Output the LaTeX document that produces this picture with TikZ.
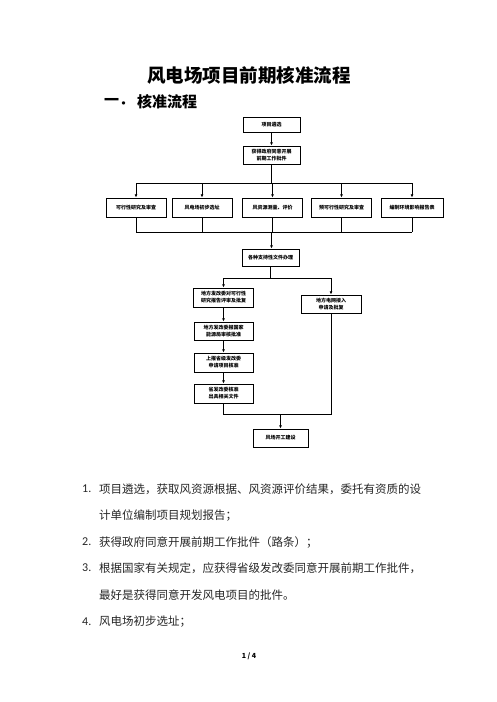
\documentclass[tikz,border=0pt]{standalone}
\usepackage{fontspec}
\setmainfont{Noto Sans CJK SC}
\newfontfamily\numfont{Carlito}
\usetikzlibrary{arrows.meta}
\begin{document}
\begin{tikzpicture}[x=1pt,y=-1pt,
  box/.style={draw,line width=0.8pt,inner sep=0pt,align=center,font=\fontsize{5}{7}\selectfont\bfseries},
  conn/.style={line width=0.8pt},
  arr/.style={line width=0.8pt,-{Latex[length=3.2pt,width=2.8pt]}},
  body/.style={anchor=west,inner sep=0pt,font=\fontsize{11.5}{13}\selectfont,text=black!85},
  num/.style={anchor=west,inner sep=0pt,font=\numfont\fontsize{12}{13}\selectfont,text=black!85}]
\useasboundingbox (0,0) rectangle (496,702);
% headings
\node[inner sep=0pt,font=\fontsize{18.5}{20}\selectfont\bfseries] (title) at (249,75) {风电场项目前期核准流程};
\node[inner sep=0pt,anchor=west,font=\fontsize{15}{17}\selectfont\bfseries] (h1a) at (104,102) {一．};
\node[inner sep=0pt,anchor=west,font=\fontsize{15}{17}\selectfont\bfseries] (h1b) at (137,102) {核准流程};
% flowchart
\node[box,minimum width=57pt,minimum height=15pt] (n1) at (271.5,124.5) {项目遴选};
\node[box,minimum width=57pt,minimum height=18pt] (n2) at (271.5,155) {获得政府同意开展\\前期工作批件};
\node[box,minimum width=60pt,minimum height=19pt] (r1) at (136,207.5) {可行性研究及审查};
\node[box,minimum width=60pt,minimum height=19pt] (r2) at (202,207.5) {风电场初步选址};
\node[box,minimum width=60pt,minimum height=19pt] (r3) at (272.5,207.5) {风资源测量、评价};
\node[box,minimum width=60pt,minimum height=19pt] (r4) at (341.5,207.5) {预可行性研究及审查};
\node[box,minimum width=62pt,minimum height=19pt] (r5) at (412,207.5) {编制环境影响报告表};
\node[box,minimum width=57pt,minimum height=17pt] (n3) at (270.5,257.5) {各种支持性文件办理};
\node[box,minimum width=60pt,minimum height=19pt] (n4) at (223.5,297.5) {地方发改委对可行性\\研究报告评审及批复};
\node[box,minimum width=60pt,minimum height=18pt] (n5) at (331,304) {地方电网接入\\申请及批复};
\node[box,minimum width=59pt,minimum height=18pt] (n6) at (223.5,331) {地方发改委报国家\\能源局审核批准};
\node[box,minimum width=59pt,minimum height=19pt] (n7) at (223.5,362.5) {上报省级发改委\\申请项目核准};
\node[box,minimum width=59pt,minimum height=19pt] (n8) at (223.5,393.5) {省发改委核准\\出具相关文件};
\node[box,minimum width=55pt,minimum height=18pt] (n9) at (280.5,438) {风场开工建设};
\coordinate (busT) at (271.5,183);
\coordinate (busB) at (271.5,232);
\coordinate (brn) at (270.5,278);
\coordinate (mrg) at (280.5,414);
% connectors
\draw[arr] (n1) -- (n2);
\draw[conn] (n2) -- (busT);
\draw[conn] (r1.north |- busT) -- (r5.north |- busT);
\foreach \r in {r1,r2,r3,r4,r5} {
  \draw[arr] (\r.north |- busT) -- (\r.north);
  \draw[conn] (\r.south) -- (\r.south |- busB);
}
\draw[conn] (r1.south |- busB) -- (r5.south |- busB);
\draw[arr] (busB) -- (busB |- n3.north);
\draw[conn] (n3) -- (brn);
\draw[conn] (n4.north |- brn) -- (n5.north |- brn);
\draw[arr] (n4.north |- brn) -- (n4.north);
\draw[arr] (n5.north |- brn) -- (n5.north);
\draw[arr] (n4) -- (n6);
\draw[arr] (n6) -- (n7);
\draw[arr] (n7) -- (n8);
\draw[conn] (n8.south) -- (n8.south |- mrg) -- (n5.south |- mrg) -- (n5.south);
\draw[arr] (mrg) -- (n9.north);
% list text
\node[num] (k1) at (82,489) {1.};
\node[body] (t1a) at (99,489) {项目遴选，获取风资源根据、风资源评价结果，委托有资质的设};
\node[body] (t1b) at (99,516) {计单位编制项目规划报告；};
\node[num] (k2) at (82,542) {2.};
\node[body] (t2) at (99,542) {获得政府同意开展前期工作批件（路条）；};
\node[num] (k3) at (82,568) {3.};
\node[body] (t3a) at (99,568) {根据国家有关规定，应获得省级发改委同意开展前期工作批件，};
\node[body] (t3b) at (99,595) {最好是获得同意开发风电项目的批件。};
\node[num] (k4) at (82,622) {4.};
\node[body] (t4) at (99,622) {风电场初步选址；};
\node[inner sep=0pt,font=\fontsize{7}{8}\selectfont\bfseries] (pg) at (249,656) {1 / 4};
\end{tikzpicture}
\end{document}
